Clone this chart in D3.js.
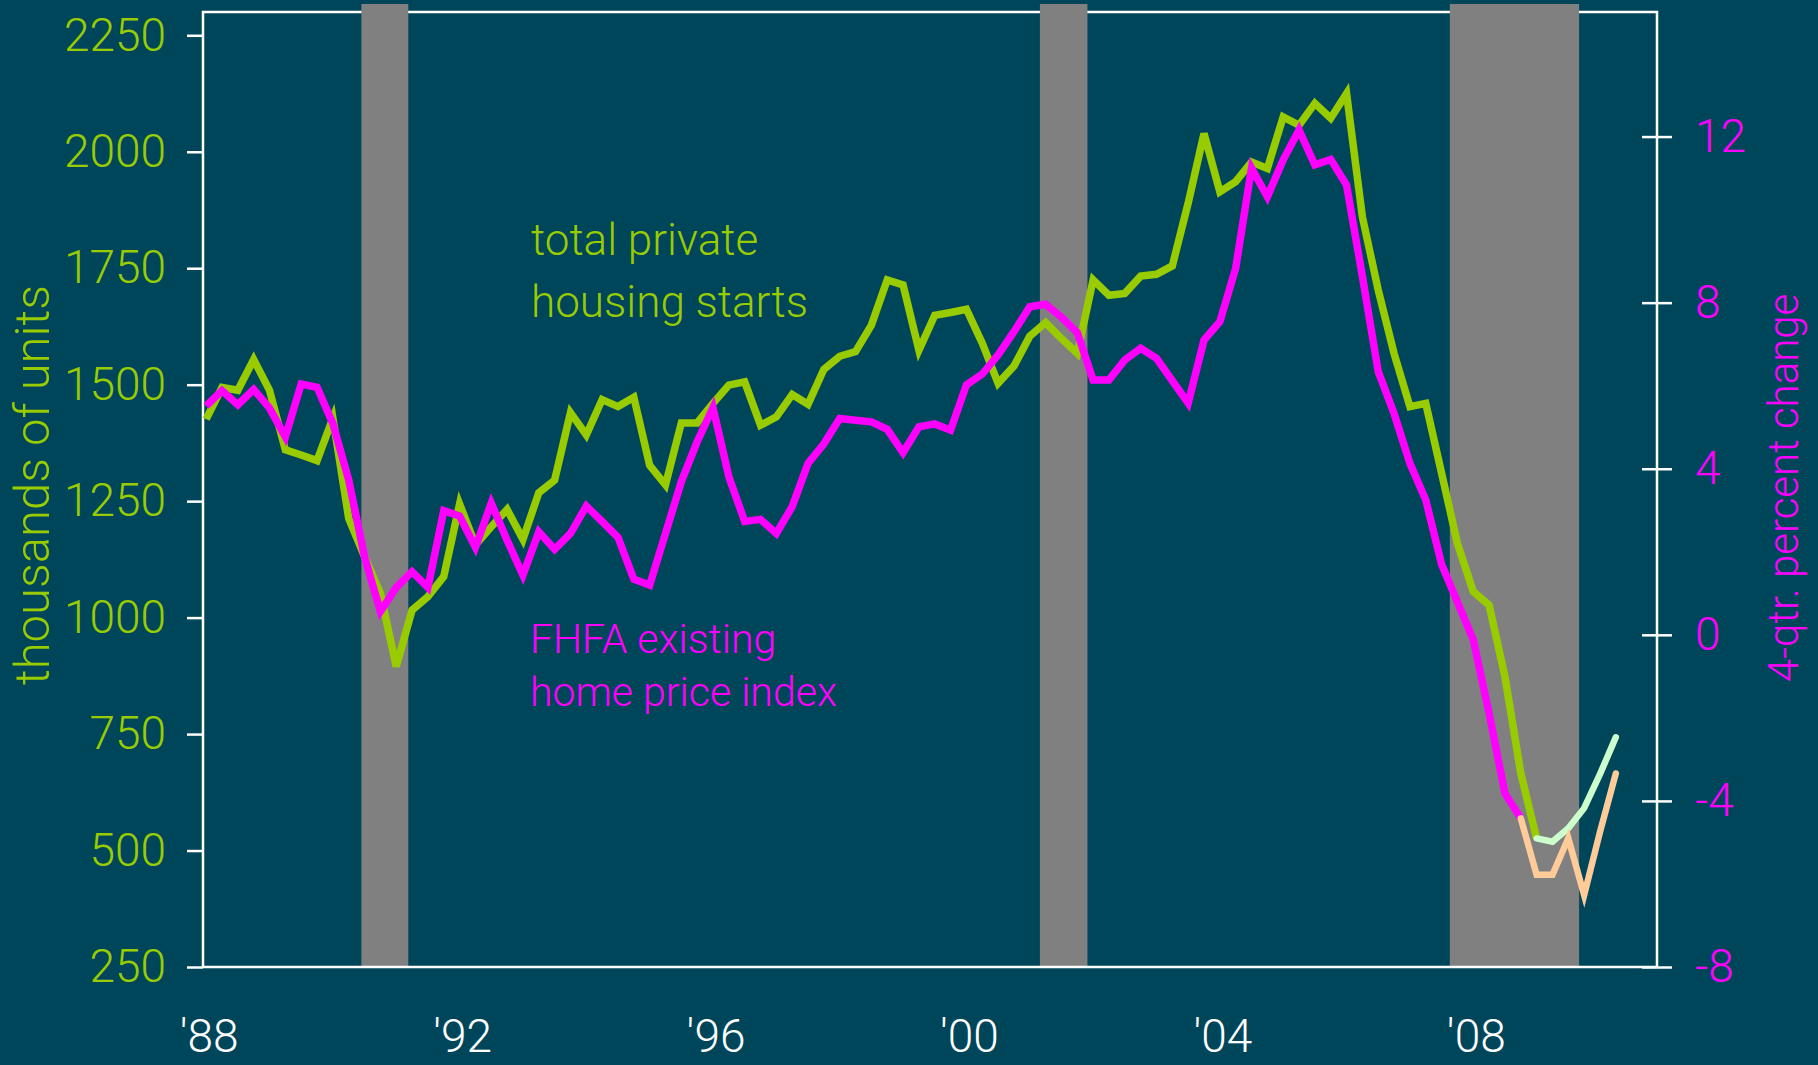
<!DOCTYPE html>
<html>
<head>
<meta charset="utf-8">
<script src="https://cdn.jsdelivr.net/npm/d3@7"></script>
<style>
  html, body { margin: 0; padding: 0; background: #00465a; }
  svg { display: block; }
  text { font-family: Roboto, "Open Sans", sans-serif; font-weight: 300; }
</style>
</head>
<body>
<svg id="chart"></svg>
<script>
// quarterly series, first point = 1988 Q1
const startYear = 1988;

// total private housing starts, thousands of units (left axis)
const housingStarts = [
  1426, 1494, 1488, 1554, 1488, 1360, 1349, 1337, 1428, 1213,
  1131, 1052, 895, 1016, 1045, 1088, 1244, 1156, 1195, 1232,
  1168, 1268, 1295, 1440, 1392, 1468, 1453, 1473, 1327, 1285,
  1418, 1418, 1460, 1499, 1506, 1413, 1431, 1479, 1458, 1533,
  1561, 1571, 1628, 1725, 1714, 1574, 1649, 1655, 1662, 1589,
  1503, 1540, 1604, 1633, 1599, 1567, 1725, 1692, 1696, 1733,
  1737, 1755, 1890, 2039, 1914, 1936, 1978, 1964, 2075, 2057,
  2104, 2072, 2125, 1860, 1703, 1567, 1453, 1460, 1310, 1159,
  1056, 1027, 873, 666, 526
];
// forecast, starts at 2009 Q1 (quarter index 84)
const startsForecastStart = 84;
const housingStartsForecast = [526, 519, 548, 591, 664, 743];

// FHFA existing home price index, 4-qtr. percent change (right axis)
const priceChange = [
  5.51, 5.88, 5.54, 5.91, 5.46, 4.77, 6.04, 5.96, 5.09, 3.73,
  1.88, 0.56, 1.14, 1.52, 1.14, 2.99, 2.86, 2.11, 3.17, 2.28,
  1.44, 2.48, 2.06, 2.44, 3.10, 2.73, 2.35, 1.34, 1.20, 2.44,
  3.69, 4.65, 5.47, 3.81, 2.73, 2.78, 2.44, 3.09, 4.13, 4.60,
  5.21, 5.17, 5.13, 4.95, 4.39, 5.01, 5.08, 4.93, 6.02, 6.28,
  6.74, 7.30, 7.90, 7.96, 7.65, 7.28, 6.14, 6.14, 6.62, 6.90,
  6.66, 6.12, 5.58, 7.10, 7.54, 8.83, 11.24, 10.55, 11.44, 12.16,
  11.32, 11.45, 10.83, 8.63, 6.34, 5.33, 4.13, 3.25, 1.70, 0.79,
  -0.12, -1.89, -3.82, -4.42
];
// forecast, starts at 2008 Q4 (quarter index 83)
const priceForecastStart = 83;
const priceChangeForecast = [-4.42, -5.78, -5.78, -4.90, -6.27, -4.75, -3.34];

// recession shading, in decimal years
const recessions = [[1990.45, 1991.19], [2001.16, 2001.91], [2007.63, 2009.67]];

const leftTicks = [250, 500, 750, 1000, 1250, 1500, 1750, 2000, 2250];
const rightTicks = [-8, -4, 0, 4, 8, 12];
const yearTicks = [1988, 1992, 1996, 2000, 2004, 2008];
const yearLabels = ["'88", "'92", "'96", "'00", "'04", "'08"];

const colors = {
  bg: "#00465a",
  starts: "#99cc00",
  startsFc: "#ccffcc",
  price: "#ff00ff",
  priceFc: "#ffcc99",
  recession: "#808080",
  axis: "#ffffff"
};

// dims
const width = 1818, height = 1065;
const plot = { left: 203, right: 1657, top: 12, bottom: 967 };

const svg = d3.select("#chart")
  .attr("width", width)
  .attr("height", height);

svg.append("rect")
  .attr("width", width)
  .attr("height", height)
  .attr("fill", colors.bg);

// scales
const x = d3.scaleLinear().domain([1987.95, 2010.9]).range([plot.left, plot.right]);
const yLeft = d3.scaleLinear().domain([250, 2300]).range([plot.bottom, plot.top]);
const yRight = d3.scaleLinear().domain([-8, 15]).range([plot.bottom, plot.top]);

const qYear = i => startYear + i / 4;

// frame (top + sides), recession bars sit over the top edge
svg.append("path")
  .attr("fill", "none")
  .attr("stroke", colors.axis)
  .attr("stroke-width", 2.5)
  .attr("d", `M${plot.left},${plot.bottom}V${plot.top}H${plot.right}V${plot.bottom}`);

svg.append("g")
  .selectAll("rect")
  .data(recessions)
  .join("rect")
  .attr("x", d => x(d[0]))
  .attr("width", d => x(d[1]) - x(d[0]))
  .attr("y", 4)
  .attr("height", plot.bottom - 4)
  .attr("fill", colors.recession);

svg.append("line")
  .attr("x1", plot.left)
  .attr("x2", plot.right)
  .attr("y1", plot.bottom)
  .attr("y2", plot.bottom)
  .attr("stroke", colors.axis)
  .attr("stroke-width", 2.5);

// left axis
const leftAxis = svg.append("g")
  .attr("transform", `translate(${plot.left},0)`)
  .call(d3.axisLeft(yLeft)
    .tickValues(leftTicks)
    .tickFormat(d => String(d))
    .tickSize(16)
    .tickPadding(21));

leftAxis.select(".domain").remove();
leftAxis.selectAll(".tick line").attr("stroke", colors.axis).attr("stroke-width", 2.5);
leftAxis.selectAll(".tick text")
  .attr("fill", colors.starts)
  .style("font-size", "46px")
  .style("font-family", "Roboto, sans-serif");

// right axis, ticks cross the line
const rightAxis = svg.append("g")
  .attr("transform", `translate(${plot.right},0)`)
  .call(d3.axisRight(yRight)
    .tickValues(rightTicks)
    .tickFormat(d => String(d))
    .tickSize(15)
    .tickPadding(23));

rightAxis.select(".domain").remove();
rightAxis.selectAll(".tick line")
  .attr("x1", -15)
  .attr("stroke", colors.axis)
  .attr("stroke-width", 2.5);
rightAxis.selectAll(".tick text")
  .attr("fill", colors.price)
  .style("font-size", "46px")
  .style("font-family", "Roboto, sans-serif");

// year labels
svg.append("g")
  .selectAll("text")
  .data(yearTicks)
  .join("text")
  .attr("x", d => x(d) + 3)
  .attr("y", 1052)
  .attr("text-anchor", "middle")
  .attr("fill", colors.axis)
  .style("font-size", "46px")
  .text((d, i) => yearLabels[i]);

// axis titles
svg.append("text")
  .attr("transform", "translate(49,485) rotate(-90)")
  .attr("text-anchor", "middle")
  .attr("fill", colors.starts)
  .style("font-size", "49px")
  .text("thousands of units");

svg.append("text")
  .attr("transform", "translate(1798,488) rotate(-90)")
  .attr("text-anchor", "middle")
  .attr("fill", colors.price)
  .style("font-size", "42px")
  .text("4-qtr. percent change");

// lines
const lineLeft = offset => d3.line()
  .x((d, i) => x(qYear(offset + i)))
  .y(d => yLeft(d));

const lineRight = offset => d3.line()
  .x((d, i) => x(qYear(offset + i)))
  .y(d => yRight(d));

svg.append("path")
  .attr("fill", "none")
  .attr("stroke", colors.starts)
  .attr("stroke-width", 7.5)
  .attr("d", lineLeft(0)(housingStarts));

svg.append("path")
  .attr("fill", "none")
  .attr("stroke", colors.price)
  .attr("stroke-width", 7.5)
  .attr("d", lineRight(0)(priceChange));

svg.append("path")
  .attr("fill", "none")
  .attr("stroke", colors.startsFc)
  .attr("stroke-width", 6.5)
  .attr("stroke-linecap", "round")
  .attr("d", lineLeft(startsForecastStart)(housingStartsForecast));

svg.append("path")
  .attr("fill", "none")
  .attr("stroke", colors.priceFc)
  .attr("stroke-width", 6.5)
  .attr("stroke-linecap", "round")
  .attr("d", lineRight(priceForecastStart)(priceChangeForecast));

// series labels
const startsLabel = svg.append("text")
  .attr("x", 531)
  .attr("y", 255)
  .attr("fill", colors.starts)
  .style("font-size", "44px");
startsLabel.append("tspan").attr("x", 531).text("total private");
startsLabel.append("tspan").attr("x", 531).attr("dy", 62).text("housing starts");

const priceLabel = svg.append("text")
  .attr("x", 530)
  .attr("y", 653)
  .attr("fill", colors.price)
  .style("font-size", "41px");
priceLabel.append("tspan").attr("x", 530).text("FHFA existing");
priceLabel.append("tspan").attr("x", 530).attr("dy", 53).text("home price index");
</script>
</body>
</html>
